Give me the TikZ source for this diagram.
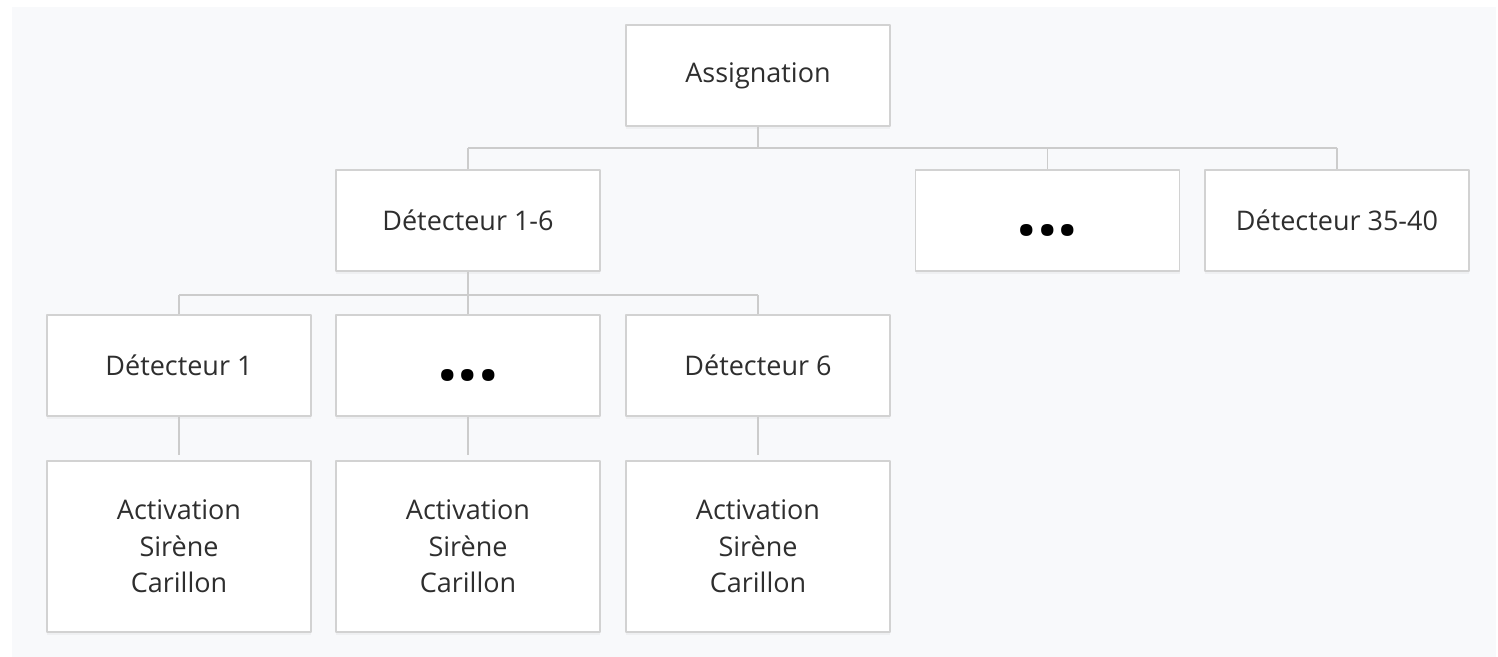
\documentclass[tikz,border=0pt]{standalone}
\usepackage{fontspec}
\setmainfont{Open Sans}
\usetikzlibrary{shadows}

\definecolor{bgcol}{HTML}{F8F9FB}
\definecolor{edgecol}{HTML}{D2D2D2}
\definecolor{linkcol}{HTML}{CCCCCC}
\definecolor{txtcol}{HTML}{2E2E2E}

\tikzset{
	box/.style={draw=edgecol, line width=0.8pt, fill=white, minimum width=132pt, minimum height=50.5pt, inner sep=0pt, text=txtcol, align=center, font=\fontsize{13.5}{18.3}\selectfont, drop shadow={shadow xshift=0pt, shadow yshift=-1.6pt, opacity=0.07}},
	tallbox/.style={box, minimum height=85.5pt},
	dotsbox/.style={box, text=black, font=\fontsize{36}{36}\selectfont\bfseries, text height=15pt, text depth=0pt},
	link/.style={draw=linkcol, line width=0.8pt},
}

\begin{document}
\begin{tikzpicture}[x=0.5pt, y=-0.5pt, line join=round]
	
	\useasboundingbox (0,0) rectangle (1498,657);
	\fill[bgcol] (12,7) rectangle (1496,657);
	
	% top
	\node[box] (assign) at (758,75.5) {Assignation};
	
	% second row
	\node[box] (d16) at (468,220.5) {Détecteur 1-6};
	\node[dotsbox] (dots2) at (1047.5,220.5) {...};
	\node[box] (d3540) at (1337,220.5) {Détecteur 35-40};
	
	% third row
	\node[box] (d1) at (179,365.5) {Détecteur 1};
	\node[dotsbox] (dots3) at (468,365.5) {...};
	\node[box] (d6) at (758,365.5) {Détecteur 6};
	
	% fourth row
	\foreach \i/\x in {1/179, 2/468, 3/758} {
		\node[tallbox] (act\i) at (\x,546.5) {Activation\\Sirène\\Carillon};
	}
	
	% links
	\coordinate (bus1) at (758,148);
	\coordinate (bus2) at (468,295);
	
	\draw[link] (assign.south) -- (assign.south |- bus1);
	\draw[link] (d16.north |- bus1) -- (d3540.north |- bus1);
	\foreach \n in {d16, dots2, d3540} {
		\draw[link] (\n.north) -- (\n.north |- bus1);
	}
	
	\draw[link] (d16.south) -- (d16.south |- bus2);
	\draw[link] (d1.north |- bus2) -- (d6.north |- bus2);
	\foreach \n in {d1, dots3, d6} {
		\draw[link] (\n.north) -- (\n.north |- bus2);
	}
	
	\draw[link, shorten >=2.5pt] (d1.south) -- (act1.north);
	\draw[link, shorten >=2.5pt] (dots3.south) -- (act2.north);
	\draw[link, shorten >=2.5pt] (d6.south) -- (act3.north);
	
\end{tikzpicture}
\end{document}
